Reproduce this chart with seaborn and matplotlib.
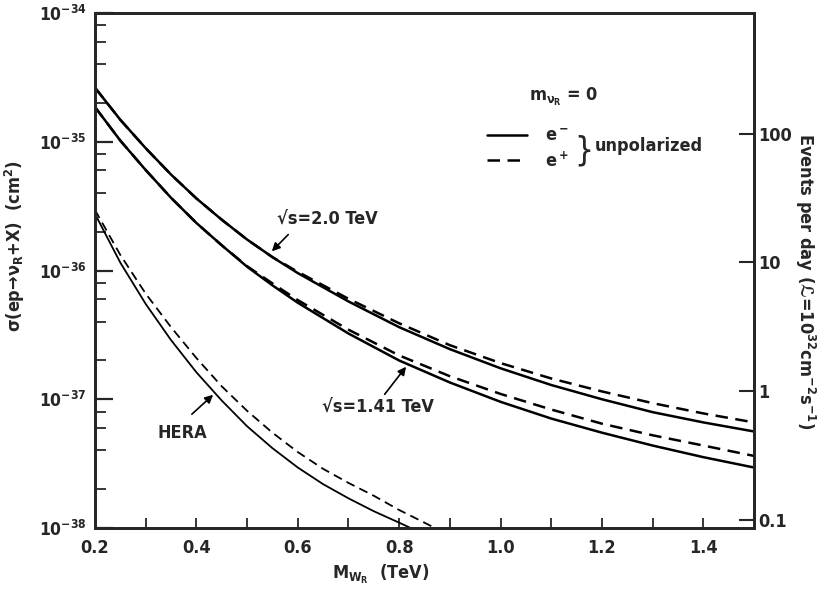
import matplotlib
matplotlib.use("Agg")
import matplotlib.pyplot as plt
import seaborn as sns
import pandas as pd
from matplotlib.ticker import (LogLocator, MultipleLocator, NullFormatter, FormatStrFormatter,
                               FixedLocator, FixedFormatter, NullLocator, LogFormatterSciNotation)
from matplotlib.lines import Line2D

# ---- data ----
M_main = [0.2, 0.25, 0.3, 0.35, 0.4, 0.45, 0.5, 0.55, 0.6, 0.7, 0.8, 0.9, 1.0, 1.1, 1.2, 1.3, 1.4, 1.5]
s20_em = [2.63e-35, 1.48e-35, 8.91e-36, 5.56e-36, 3.63e-36, 2.48e-36, 1.74e-36, 1.27e-36, 9.55e-37,
          5.75e-37, 3.63e-37, 2.45e-37, 1.74e-37, 1.29e-37, 1.00e-37, 7.94e-38, 6.61e-38, 5.62e-38]
s20_ep = [2.63e-35, 1.48e-35, 8.91e-36, 5.56e-36, 3.63e-36, 2.48e-36, 1.74e-36, 1.27e-36, 9.77e-37,
          6.03e-37, 3.89e-37, 2.63e-37, 1.91e-37, 1.45e-37, 1.15e-37, 9.33e-38, 7.76e-38, 6.61e-38]
s141_em = [1.86e-35, 1.02e-35, 6.03e-36, 3.67e-36, 2.34e-36, 1.57e-36, 1.07e-36, 7.67e-37, 5.62e-37,
           3.24e-37, 2.00e-37, 1.35e-37, 9.55e-38, 7.08e-38, 5.50e-38, 4.37e-38, 3.55e-38, 2.95e-38]
s141_ep = [1.86e-35, 1.02e-35, 6.03e-36, 3.67e-36, 2.34e-36, 1.57e-36, 1.08e-36, 7.94e-37, 5.89e-37,
           3.47e-37, 2.19e-37, 1.51e-37, 1.10e-37, 8.32e-38, 6.46e-38, 5.25e-38, 4.37e-38, 3.63e-38]

M_hera_em = [0.2, 0.25, 0.3, 0.35, 0.4, 0.45, 0.5, 0.55, 0.6, 0.65, 0.7, 0.75, 0.8, 0.85]
hera_em = [2.75e-36, 1.15e-36, 5.50e-37, 2.88e-37, 1.62e-37, 9.77e-38, 6.17e-38,
           4.17e-38, 2.95e-38, 2.19e-38, 1.70e-38, 1.35e-38, 1.10e-38, 8.91e-39]
M_hera_ep = [0.2, 0.25, 0.3, 0.35, 0.4, 0.45, 0.5, 0.55, 0.6, 0.65, 0.7, 0.75, 0.8, 0.85, 0.9]
hera_ep = [2.95e-36, 1.32e-36, 6.61e-37, 3.63e-37, 2.09e-37, 1.26e-37, 8.13e-38,
           5.50e-38, 3.89e-38, 2.88e-38, 2.24e-38, 1.78e-38, 1.38e-38, 1.10e-38, 8.71e-39]

x_ticks = [0.2, 0.4, 0.6, 0.8, 1.0, 1.2, 1.4]
y_ticks = [1e-38, 1e-37, 1e-36, 1e-35, 1e-34]
right_ticks = [0.1, 1, 10, 100]
right_labels = ["0.1", "1", "10", "100"]
events_per_sigma = 1e32 * 86400  # luminosity x seconds per day

# ---- style ----
sns.set_style("ticks")
plt.rcParams["font.family"] = ["DejaVu Sans"]
plt.rcParams["font.stretch"] = "condensed"
plt.rcParams["font.weight"] = "bold"
plt.rcParams["axes.labelweight"] = "bold"
plt.rcParams["mathtext.default"] = "regular"
plt.rcParams["axes.linewidth"] = 2.0

fig = plt.figure(figsize=(8.3, 6.02), dpi=100)
ax = fig.add_axes([95 / 830, 1 - 528 / 602, 659 / 830, 515 / 602])

dash = (0, (5, 3))
series = [
    (M_main, s20_em, "-", 1.8),
    (M_main, s20_ep, dash, 1.8),
    (M_main, s141_em, "-", 1.8),
    (M_main, s141_ep, dash, 1.8),
    (M_hera_em, hera_em, "-", 1.3),
    (M_hera_ep, hera_ep, dash, 1.3),
]
for xs, ys, ls, lw in series:
    df = pd.DataFrame({"M": xs, "sigma": ys})
    sns.lineplot(data=df, x="M", y="sigma", ax=ax, color="black",
                 linewidth=lw, linestyle=ls, estimator=None, sort=False)

ax.set_yscale("log")
ax.set_xlim(0.2, 1.5)
ax.set_ylim(1e-38, 1e-34)

ax.xaxis.set_major_locator(FixedLocator(x_ticks))
ax.xaxis.set_major_formatter(FormatStrFormatter("%.1f"))
ax.xaxis.set_minor_locator(MultipleLocator(0.1))
ax.yaxis.set_major_locator(FixedLocator(y_ticks))
ax.yaxis.set_major_formatter(LogFormatterSciNotation())
ax.yaxis.set_minor_locator(LogLocator(base=10, subs=(2, 4, 6, 8), numticks=10))
ax.yaxis.set_minor_formatter(NullFormatter())

ax.tick_params(axis="x", which="both", direction="in", length=7, width=1.3,
               top=False, labelsize=13, pad=8)
ax.tick_params(axis="y", which="major", direction="in", length=13, width=1.6,
               right=False, labelsize=12.5, pad=6)
ax.tick_params(axis="y", which="minor", direction="in", length=8, width=1.3, right=False)

ax.set_xlabel(r"M$_{W_R}$  (TeV)", fontsize=13)
ax.xaxis.set_label_coords(0.434, -0.068)
ax.set_ylabel(r"σ(ep→ν$_R$+X)  (cm$^2$)", fontsize=13)
ax.yaxis.set_label_coords(-0.103, 0.548)

# right axis: events per day
ax2 = ax.twinx()
ax2.set_position(ax.get_position())
ax2.set_yscale("log")
ax2.set_ylim(1e-38 * events_per_sigma, 1e-34 * events_per_sigma)
ax2.yaxis.set_major_locator(FixedLocator(right_ticks))
ax2.yaxis.set_major_formatter(FixedFormatter(right_labels))
ax2.yaxis.set_minor_locator(NullLocator())
ax2.tick_params(axis="y", which="major", direction="in", length=11, width=1.5,
                labelsize=13, pad=3)
ax2.set_ylabel("Events per day (ℒ=10$^{32}$cm$^{-2}$s$^{-1}$)",
               fontsize=13, rotation=-90)
ax2.yaxis.set_label_coords(1.095, 0.48)
for sp in ax2.spines.values():
    sp.set_linewidth(2.0)

# annotations
ax.text(0.559, 2.51e-36, "√s=2.0 TeV", fontsize=13, va="center", ha="left")
ax.annotate("", xy=(0.545, 1.36e-36), xytext=(0.585, 1.97e-36),
            arrowprops=dict(arrowstyle="-|>", color="black", lw=1.2, mutation_scale=12))
ax.text(0.648, 8.7e-38, "√s=1.41 TeV", fontsize=13, va="center", ha="left")
ax.annotate("", xy=(0.817, 1.86e-37), xytext=(0.768, 1.05e-37),
            arrowprops=dict(arrowstyle="-|>", color="black", lw=1.2, mutation_scale=12))
ax.text(0.324, 5.5e-38, "HERA", fontsize=13, va="center", ha="left")
ax.annotate("", xy=(0.437, 1.12e-37), xytext=(0.387, 7.4e-38),
            arrowprops=dict(arrowstyle="-|>", color="black", lw=1.2, mutation_scale=12))

# legend
handles = [Line2D([], [], color="black", lw=1.8, ls="-"),
           Line2D([], [], color="black", lw=1.8, ls=dash)]
leg = ax.legend(handles, [r"e$^-$", r"e$^+$"], loc="upper left",
                bbox_to_anchor=(487 / 830, 1 - 127 / 602), bbox_transform=fig.transFigure,
                frameon=False, fontsize=13, handlelength=2.2, handletextpad=1.0,
                labelspacing=0.35, borderpad=0, borderaxespad=0)
fig.text(564 / 830, 1 - 97 / 602, r"m$_{\nu_R}$ = 0", fontsize=13, ha="center", va="center")
fig.text(584 / 830, 1 - 151 / 602, "}", fontsize=24, ha="center", va="center",
         fontweight="normal")
fig.text(595 / 830, 1 - 146 / 602, "unpolarized", fontsize=13, ha="left", va="center")

fig.savefig("out.png", dpi=100)
